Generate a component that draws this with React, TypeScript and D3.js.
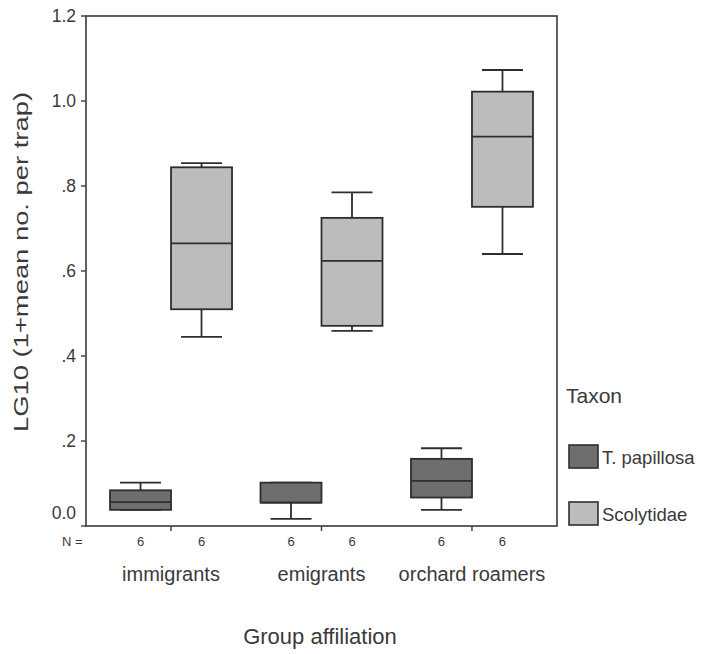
import React from 'react';
import * as d3 from 'd3';

const groups = ['immigrants', 'emigrants', 'orchard roamers'];
const taxa = ['T. papillosa', 'Scolytidae'];
const nCounts = [
  [6, 6],
  [6, 6],
  [6, 6],
];
// [min, q1, median, q3, max]
const papillosaStats = [
  [0.038, 0.038, 0.056, 0.084, 0.102],
  [0.017, 0.055, 0.055, 0.102, 0.102],
  [0.038, 0.067, 0.106, 0.158, 0.183],
];
const scolytidaeStats = [
  [0.445, 0.51, 0.665, 0.844, 0.854],
  [0.459, 0.471, 0.624, 0.725, 0.785],
  [0.64, 0.751, 0.916, 1.022, 1.073],
];
const yTicks = [0, 0.2, 0.4, 0.6, 0.8, 1.0, 1.2];
const yTickLabels = ['0.0', '.2', '.4', '.6', '.8', '1.0', '1.2'];

const W = 704;
const H = 654;
const L = 86, R = 557, T = 16, B = 526;
const fills = ['#6e6e6e', '#bcbcbe'];
const stroke = '#2e2e2e';
const textColor = '#3a3a3a';
const font = "'Liberation Sans', Arial, sans-serif";

export default function App() {
  const x = d3.scalePoint<string>().domain(groups).range([L, R]).padding(0.565);
  const y = d3.scaleLinear().domain([0, 1.2]).range([B, T]);
  const inner = d3.scaleBand<string>().domain(taxa).range([-61, 61]);
  const bw = inner.bandwidth();
  const capW = 41;
  const allStats = [papillosaStats, scolytidaeStats];

  return (
    <svg width={W} height={H} style={{ position: 'absolute', left: 0, top: 0, background: '#fff' }} fontFamily={font}>
      <rect x={0} y={0} width={W} height={H} fill="#fff" />
      {/* frame */}
      <rect x={L} y={T} width={R - L} height={B - T} fill="none" stroke="#3a3a3a" strokeWidth={1.6} />
      {/* y ticks */}
      {yTicks.map((t, i) => (
        <g key={i}>
          <line x1={L - 5} x2={L} y1={y(t)} y2={y(t)} stroke="#3a3a3a" strokeWidth={1.4} />
          <text x={L - 10} y={y(t) + (t === 0 ? -13 : 0)} dy="0.36em" textAnchor="end" fontSize={17.5} fill={textColor}>
            {yTickLabels[i]}
          </text>
        </g>
      ))}
      {/* x ticks */}
      {groups.map((g) => (
        <line key={g} x1={x(g)} x2={x(g)} y1={B} y2={B + 5} stroke="#3a3a3a" strokeWidth={1.4} />
      ))}
      {/* boxes */}
      {allStats.map((stats, ti) =>
        groups.map((g, gi) => {
          const [mn, q1, md, q3, mx] = stats[gi];
          const x0 = (x(g) as number) + (inner(taxa[ti]) as number);
          const cx = x0 + bw / 2;
          return (
            <g key={`${ti}-${gi}`} stroke={stroke} strokeWidth={1.8}>
              <line x1={cx} x2={cx} y1={y(mx)} y2={y(q3)} />
              <line x1={cx} x2={cx} y1={y(q1)} y2={y(mn)} />
              <line x1={cx - capW / 2} x2={cx + capW / 2} y1={y(mx)} y2={y(mx)} />
              <line x1={cx - capW / 2} x2={cx + capW / 2} y1={y(mn)} y2={y(mn)} />
              <rect x={x0} y={y(q3)} width={bw} height={y(q1) - y(q3)} fill={fills[ti]} />
              <line x1={x0} x2={x0 + bw} y1={y(md)} y2={y(md)} />
            </g>
          );
        })
      )}
      {/* N = */}
      <text x={62} y={541} dy="0.36em" fontSize={13} fill={textColor}>N =</text>
      {groups.map((g, gi) =>
        taxa.map((tx, ti) => (
          <text
            key={`${g}-${tx}`}
            x={(x(g) as number) + (inner(tx) as number) + bw / 2}
            y={541}
            dy="0.36em"
            textAnchor="middle"
            fontSize={13}
            fill={textColor}
          >
            {nCounts[gi][ti]}
          </text>
        ))
      )}
      {/* category labels */}
      {groups.map((g) => (
        <text key={g} x={x(g)} y={574} dy="0.36em" textAnchor="middle" fontSize={20} fill={textColor}>
          {g}
        </text>
      ))}
      {/* axis titles */}
      <text x={320} y={636} dy="0.36em" textAnchor="middle" fontSize={22} fill={textColor}>
        Group affiliation
      </text>
      <text
        transform={`translate(20,262) rotate(-90)`}
        dy="0.36em"
        textAnchor="middle"
        fontSize={21}
        fill={textColor}
        textLength={340}
        lengthAdjust="spacingAndGlyphs"
      >
        LG10 (1+mean no. per trap)
      </text>
      {/* legend */}
      <text x={566} y={395} dy="0.36em" fontSize={21} fill={textColor}>Taxon</text>
      {taxa.map((tx, i) => (
        <g key={tx}>
          <rect x={569} y={445 + i * 57} width={29} height={23} fill={fills[i]} stroke={stroke} strokeWidth={1.6} />
          <text x={602} y={457 + i * 57} dy="0.36em" fontSize={18.5} fill={textColor}>
            {tx}
          </text>
        </g>
      ))}
    </svg>
  );
}
